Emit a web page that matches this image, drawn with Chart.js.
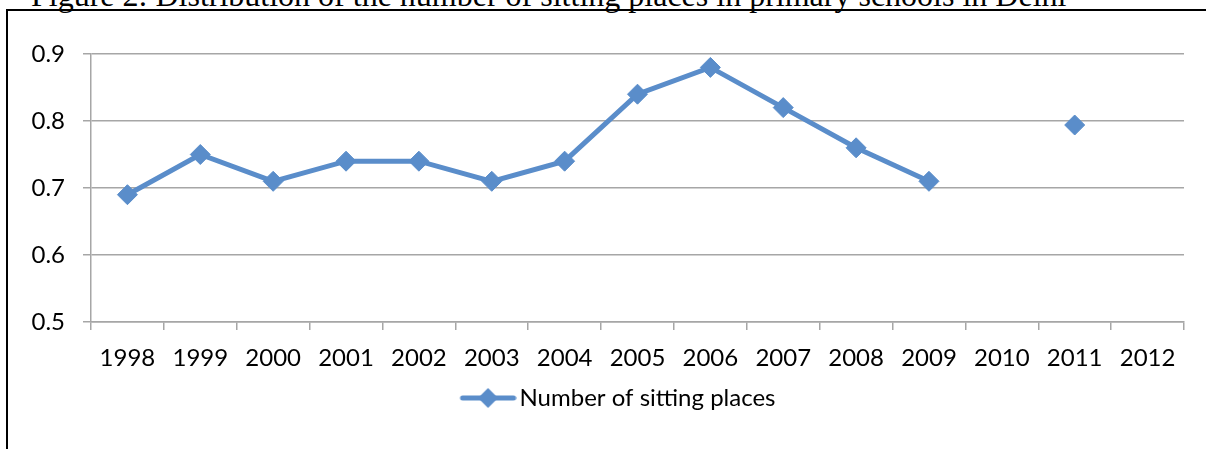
<!DOCTYPE html>
<html>
<head>
<meta charset="utf-8">
<script src="https://cdn.jsdelivr.net/npm/chart.js@4"></script>
<style>
  html, body { margin: 0; padding: 0; width: 1206px; height: 449px; overflow: hidden; background: #fff; }
  #title { position: absolute; left: 31px; top: -23.5px; font-family: "Liberation Serif", serif; font-size: 32px; white-space: nowrap; color: #000; }
  #frame { position: absolute; left: 6px; top: 9px; width: 1400px; height: 600px; border: 2px solid #000; }
  #wrap { position: absolute; left: 0; top: 0; width: 1206px; height: 449px; }
</style>
</head>
<body>
<div id="title">Figure 2: Distribution of the number of sitting places in primary schools in Delhi</div>
<div id="frame"></div>
<div id="wrap"><canvas id="chart" width="1206" height="449"></canvas></div>
<script>
const years = ['1998', '1999', '2000', '2001', '2002', '2003', '2004', '2005', '2006', '2007', '2008', '2009', '2010', '2011', '2012'];
const sittingPlaces = [0.69, 0.75, 0.71, 0.74, 0.74, 0.71, 0.74, 0.84, 0.88, 0.82, 0.76, 0.71, null, 0.794, null];
const yTicks = [0.5, 0.6, 0.7, 0.8, 0.9];

const blue = '#5A8DCA';
const gray = '#A6A6A6';
const font = { family: 'Lato, "Open Sans", sans-serif', size: 24 };

// legend icon: line with a diamond, drawn at the right of a wider canvas
const icon = document.createElement('canvas');
icon.width = 117; icon.height = 22;
const ic = icon.getContext('2d');
ic.strokeStyle = blue; ic.lineWidth = 5; ic.lineCap = 'round';
ic.beginPath(); ic.moveTo(63, 11); ic.lineTo(114, 11); ic.stroke();
ic.fillStyle = blue;
ic.beginPath(); ic.moveTo(88.5, 1); ic.lineTo(98.5, 11); ic.lineTo(88.5, 21); ic.lineTo(78.5, 11); ic.closePath(); ic.fill();

const ctx = document.getElementById('chart');
new Chart(ctx, {
  type: 'line',
  data: {
    labels: years,
    datasets: [{
      label: 'Number of sitting places',
      data: sittingPlaces,
      borderColor: blue,
      backgroundColor: blue,
      borderWidth: 5,
      pointStyle: 'rectRot',
      pointRadius: 10,
      pointBorderWidth: 1,
      pointBackgroundColor: blue,
      pointBorderColor: blue,
      spanGaps: false,
      tension: 0
    }]
  },
  options: {
    responsive: false,
    animation: false,
    layout: { padding: { top: 54, right: 22, left: 0, bottom: 29 } },
    plugins: {
      tooltip: { enabled: false },
      legend: {
        position: 'bottom',
        labels: {
          usePointStyle: true,
          pointStyle: icon,
          pointStyleWidth: 99,
          color: '#000',
          font: font,
          padding: 6,
          generateLabels: chart => [{
            text: chart.data.datasets[0].label,
            pointStyle: icon,
            fillStyle: blue,
            strokeStyle: blue,
            lineWidth: 0,
            datasetIndex: 0
          }]
        }
      }
    },
    scales: {
      x: {
        offset: true,
        grid: { offset: true, drawOnChartArea: false, color: gray, lineWidth: 1.5, tickLength: 8 },
        border: { color: gray, width: 1.5 },
        ticks: { color: '#000', font: font, padding: 14, maxRotation: 0, autoSkip: false },
        afterFit: scale => { scale.height = 58; }
      },
      y: {
        min: 0.5,
        max: 0.9,
        afterBuildTicks: scale => { scale.ticks = yTicks.map(v => ({ value: v })); },
        grid: { color: gray, lineWidth: 1.5, tickLength: 8 },
        border: { color: gray, width: 1.5 },
        ticks: { color: '#000', font: font, padding: 18, callback: v => v.toFixed(1) },
        afterFit: scale => { scale.width = 91; }
      }
    }
  }
});
</script>
</body>
</html>
